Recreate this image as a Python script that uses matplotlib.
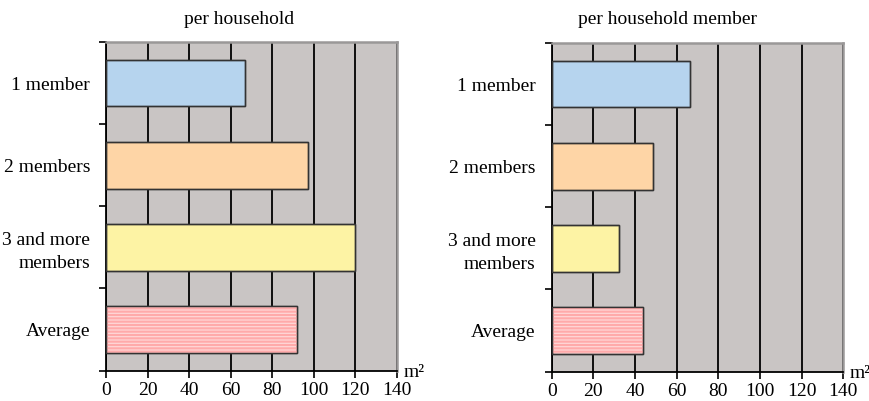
import matplotlib
matplotlib.use('Agg')
import matplotlib.pyplot as plt

# ---- data ----
categories = ['1 member', '2 members', '3 and more\nmembers', 'Average']
per_household = [67, 97, 120, 92]
per_member = [66.5, 48.5, 32.5, 44]
x_ticks = [0, 20, 40, 60, 80, 100, 120, 140]
titles = ['per household', 'per household member']
unit = 'm²'

bar_colors = ['#b6d4ee', '#fed5a6', '#fdf3a4', '#ffd6d6']
stripe_color = '#ffaaaa'
bg_color = '#c9c5c4'
edge_color = '#333333'

plt.rcParams['font.family'] = ['Liberation Serif', 'DejaVu Serif']
plt.rcParams['hatch.linewidth'] = 1.5

fig = plt.figure(figsize=(8.7, 4.01), dpi=100)
ax1 = fig.add_axes([106 / 870, 1 - 370.5 / 401, 291 / 870, 328.5 / 401])
ax2 = fig.add_axes([551.7 / 870, 1 - 371.5 / 401, 291.6 / 870, 328.5 / 401])

title_pos = [(239 / 870, 1 - 24 / 401), (667.5 / 870, 1 - 24 / 401)]

n = len(categories)
ypos = [i + 0.5 for i in range(n)]
bh = 0.57

for ax, vals, title, tp in zip([ax1, ax2], [per_household, per_member], titles, title_pos):
    ax.set_facecolor(bg_color)
    ax.set_xlim(x_ticks[0], x_ticks[-1])
    ax.set_ylim(n, 0)
    ax.set_axisbelow(True)
    ax.set_xticks(x_ticks)
    ax.xaxis.grid(True, color='black', linewidth=1.3)
    # bars
    ax.barh(ypos, vals, height=bh, color=bar_colors, edgecolor=edge_color,
            linewidth=1.0, zorder=3)
    # hatch for the average bar
    ax.barh(ypos[-1], vals[-1], height=bh, facecolor='none', edgecolor=stripe_color,
            linewidth=0, hatch='-----', zorder=3.5)
    ax.barh(ypos, vals, height=bh, facecolor='none', edgecolor=edge_color,
            linewidth=1.0, zorder=4)
    # y ticks at boundaries, labels at centers
    ax.set_yticks(list(range(n + 1)))
    ax.set_yticklabels([])
    ax.set_yticks(ypos, minor=True)
    ax.set_yticklabels(categories, minor=True, fontsize=14)
    for lab in ax.get_yticklabels(minor=True):
        lab.set_linespacing(1.45)
    ax.tick_params(axis='y', which='major', direction='out', length=5, width=1.2, color='black')
    ax.tick_params(axis='y', which='minor', length=0, pad=11.5)
    ax.tick_params(axis='x', direction='out', length=5, width=1.2, labelsize=14, pad=3)
    for s in ['left', 'bottom']:
        ax.spines[s].set_color('black')
        ax.spines[s].set_linewidth(1.3)
    for s in ['top', 'right']:
        ax.spines[s].set_color('#9a9898')
        ax.spines[s].set_linewidth(1.8)
    ax.annotate(unit, xy=(1, 0), xycoords='axes fraction', xytext=(4.5, -4.5),
                textcoords='offset points', ha='left', va='baseline', fontsize=14)
    fig.text(tp[0], tp[1], title, ha='center', va='baseline', fontsize=14)

fig.savefig('out.png', dpi=100)
